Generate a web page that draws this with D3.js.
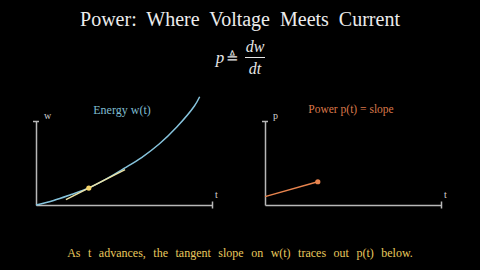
<!DOCTYPE html>
<html><head><meta charset="utf-8">
<script src="https://cdn.jsdelivr.net/npm/d3@7/dist/d3.min.js"></script>
<style>
html,body{margin:0;padding:0;background:#000;}
svg{display:block;}
</style></head>
<body>
<script>
// ---- data ----
const tValues = [0, 0.1, 0.2, 0.3, 0.4, 0.5, 0.6, 0.7, 0.8, 0.9, 0.93];
const wValues = [0, 0.054, 0.125, 0.202, 0.31, 0.435, 0.565, 0.726, 0.929, 1.179, 1.289];
const tangentT = [0.17, 0.506];
const tangentPoint = [0.3, 0.202];
const tangentSlope = 1.065;
const pT = [0, 0.3];
const pValues = [0.1, 0.277];
const tDomain = [0, 1];
const wDomain = [0, 1];
const pDomain = [0, 1];
const titleText = "Power: Where Voltage Meets Current";
const leftTitle = "Energy w(t)";
const rightTitle = "Power p(t) = slope";
const caption = "As t advances, the tangent slope on w(t) traces out p(t) below.";

const W = 480, H = 270;
const svg = d3.select("body").append("svg").attr("width", W).attr("height", H)
  .style("background", "#000");
svg.append("rect").attr("width", W).attr("height", H).attr("fill", "#000");

const serif = "'Liberation Serif','DejaVu Serif',serif";
const axisColor = "#b8b8b8";
const blue = "#86c3dc";
const orange = "#e8844e";

// Title
svg.append("text").attr("x", 240).attr("y", 26).attr("text-anchor", "middle")
  .attr("font-family", serif).attr("font-size", 20).attr("fill", "#ececec")
  .attr("word-spacing", 5).text(titleText);

// Formula p ≜ dw/dt
const fg = svg.append("g").attr("font-family", serif).attr("fill", "#e6e6e6");
fg.append("text").attr("x", 220).attr("y", 63).attr("text-anchor", "middle")
  .attr("font-style", "italic").attr("font-size", 17).text("p");
fg.append("text").attr("x", 232).attr("y", 63).attr("text-anchor", "middle")
  .attr("font-size", 15).text("≜");
fg.append("text").attr("x", 255).attr("y", 52).attr("text-anchor", "middle")
  .attr("font-style", "italic").attr("font-size", 16).text("dw");
fg.append("line").attr("x1", 245).attr("x2", 265).attr("y1", 57.5).attr("y2", 57.5)
  .attr("stroke", "#e6e6e6").attr("stroke-width", 1);
fg.append("text").attr("x", 255).attr("y", 74).attr("text-anchor", "middle")
  .attr("font-style", "italic").attr("font-size", 16).text("dt");

function drawAxes(g, x, y, yLabel) {
  const xa = g.append("g").attr("transform", `translate(0,${y.range()[0]})`)
    .call(d3.axisBottom(x).tickValues([x.domain()[1]]).tickSize(6).tickSizeOuter(0).tickFormat(""));
  xa.selectAll(".tick line").attr("y1", -3.5).attr("y2", 3.5);
  const ya = g.append("g").attr("transform", `translate(${x.range()[0]},0)`)
    .call(d3.axisLeft(y).tickValues([y.domain()[1]]).tickSize(6).tickSizeOuter(0).tickFormat(""));
  ya.selectAll(".tick line").attr("x1", -3).attr("x2", 3);
  g.selectAll(".domain, .tick line").attr("stroke", axisColor).attr("stroke-width", 1.5);
  g.append("text").attr("x", x.range()[0] + 8).attr("y", y.range()[1] - 2)
    .attr("font-family", serif).attr("font-size", 10).attr("fill", "#d0d0d0").text(yLabel);
  g.append("text").attr("x", x.range()[1] + 3).attr("y", y.range()[0] - 7)
    .attr("font-family", serif).attr("font-size", 10).attr("fill", "#d0d0d0").text("t");
}

// Left chart: energy
const xL = d3.scaleLinear().domain(tDomain).range([36, 212]);
const yL = d3.scaleLinear().domain(wDomain).range([205, 121]);
const gL = svg.append("g");
drawAxes(gL, xL, yL, "w");
gL.append("path").datum(tValues.map((t, i) => [t, wValues[i]]))
  .attr("d", d3.line().x(d => xL(d[0])).y(d => yL(d[1])).curve(d3.curveCatmullRom))
  .attr("fill", "none").attr("stroke", blue).attr("stroke-width", 1.5);
gL.append("line")
  .attr("x1", xL(tangentT[0])).attr("y1", yL(tangentPoint[1] + tangentSlope * (tangentT[0] - tangentPoint[0])))
  .attr("x2", xL(tangentT[1])).attr("y2", yL(tangentPoint[1] + tangentSlope * (tangentT[1] - tangentPoint[0])))
  .attr("stroke", "#ece3a6").attr("stroke-width", 1.5);
gL.append("circle").attr("cx", xL(tangentPoint[0])).attr("cy", yL(tangentPoint[1])).attr("r", 2.6)
  .attr("fill", "#f3d36a");
gL.append("text").attr("x", 122).attr("y", 114).attr("text-anchor", "middle")
  .attr("font-family", serif).attr("font-size", 12).attr("fill", "#7fbcd0").text(leftTitle);

// Right chart: power
const xR = d3.scaleLinear().domain(tDomain).range([265, 441]);
const yR = d3.scaleLinear().domain(pDomain).range([205, 121]);
const gR = svg.append("g");
drawAxes(gR, xR, yR, "p");
gR.append("path").datum(pT.map((t, i) => [t, pValues[i]]))
  .attr("d", d3.line().x(d => xR(d[0])).y(d => yR(d[1])))
  .attr("fill", "none").attr("stroke", orange).attr("stroke-width", 1.5);
gR.append("circle").attr("cx", xR(pT[1])).attr("cy", yR(pValues[1])).attr("r", 2.6)
  .attr("fill", orange);
gR.append("text").attr("x", 351).attr("y", 113).attr("text-anchor", "middle")
  .attr("font-family", serif).attr("font-size", 11.5).attr("fill", "#d9784a").text(rightTitle);

// Caption
svg.append("text").attr("x", 240).attr("y", 257).attr("text-anchor", "middle")
  .attr("font-family", serif).attr("font-size", 12).attr("fill", "#e8c95e")
  .attr("word-spacing", 4.5).text(caption);
</script>
</body></html>
